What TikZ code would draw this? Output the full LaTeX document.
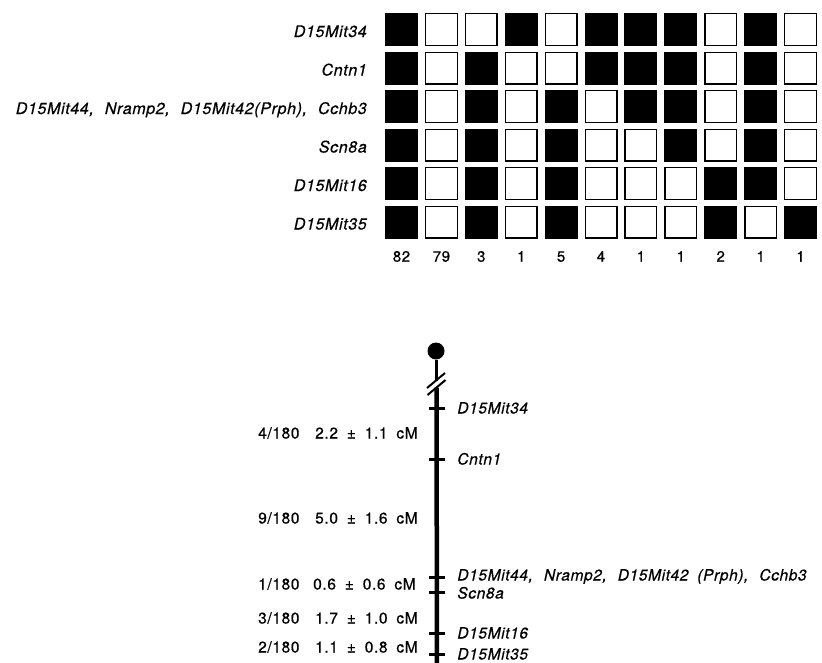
\documentclass[tikz,border=0pt]{standalone}
\usepackage{fontspec}
\setmainfont{TeX Gyre Heros}
\newfontfamily\mapfont[LetterSpace=4,WordSpace=1.8,FakeBold=0.6]{TeX Gyre Heros}
\usetikzlibrary{positioning}
\colorlet{fill0}{white}
\colorlet{fill1}{black}
\newcommand{\wgap}{\hspace{11pt}}

\begin{document}
\begin{tikzpicture}[
  x=1pt, y=-1pt,
  cellBox/.style    ={rectangle, draw=black, line width=1.4pt, minimum size=31.6pt, inner sep=0pt},
  rowLabel/.style   ={inner sep=0pt, text height=11pt, text depth=0pt, yshift=-2pt, font=\mapfont\fontsize{16}{18}\selectfont\itshape},
  countLabel/.style ={inner sep=0pt, text height=10pt, text depth=0pt, font=\mapfont\fontsize{15}{17}\selectfont},
  mapLabel/.style   ={inner sep=0pt, text height=11pt, text depth=0pt, font=\mapfont\fontsize{15.5}{18}\selectfont},
  markerLabel/.style={mapLabel, font=\mapfont\fontsize{15.5}{18}\selectfont\itshape},
  tickMark/.style   ={rectangle, fill=black, minimum width=16pt, minimum height=3pt, inner sep=0pt},
  chromLine/.style  ={line width=4.5pt},
  stemLine/.style   ={line width=3pt},
  breakMark/.style  ={line width=2pt}
]
\useasboundingbox (0,0) rectangle (822,662);

% ================== HAPLOTYPE GRID ==================
\foreach \pattern [count=\r] in {
    {1,0,0,1,0,1,1,1,0,1,0},
    {1,0,1,0,0,1,1,1,0,1,0},
    {1,0,1,0,1,0,1,1,0,1,0},
    {1,0,1,0,1,0,0,1,0,1,0},
    {1,0,1,0,1,0,0,0,1,1,0},
    {1,0,1,0,1,0,0,0,1,0,1}}{
  \foreach \v [count=\c] in \pattern
    \node[cellBox, fill=fill\v] (cell-\r-\c) at ({401.5+39.9*(\c-1)}, {29.5+38.5*(\r-1)}) {};
}

% row labels
\node[rowLabel, left=18pt of cell-1-1] (lab1) {D15Mit34};
\node[rowLabel, left=18pt of cell-2-1] (lab2) {Cntn1};
\node[rowLabel, left=18pt of cell-3-1] (lab3) {D15Mit44,\wgap Nramp2,\wgap D15Mit42(Prph),\wgap Cchb3};
\node[rowLabel, left=18pt of cell-4-1] (lab4) {Scn8a};
\node[rowLabel, left=18pt of cell-5-1] (lab5) {D15Mit16};
\node[rowLabel, left=18pt of cell-6-1] (lab6) {D15Mit35};

% animal counts below each column
\foreach \n [count=\c] in {82,79,3,1,5,4,1,1,2,1,1}
  \node[countLabel, below=13pt of cell-6-\c] (num-\c) {\n};

% ================== CHROMOSOME ==================
\node[circle, fill=black, minimum size=17pt, inner sep=0pt] (cen) at (436,351) {};
\coordinate (brkTop) at (436,380.5);
\coordinate (brkBot) at (436.5,387.5);
\coordinate (chrEnd) at (437,670);

\draw[stemLine] (cen) -- (brkTop);
\draw[chromLine] (brkBot) -- (chrEnd);

% break marks
\draw[breakMark] ([shift={(9,-7.5)}]brkTop) -- ([shift={(-9,7.5)}]brkTop);
\draw[breakMark] ([shift={(9,-7.5)}]brkBot) -- ([shift={(-9,7.5)}]brkBot);

% marker ticks
\node[tickMark] (t34)  at (437,408) {};
\node[tickMark] (tCn)  at (437,459) {};
\node[tickMark] (t44)  at (437,577) {};
\node[tickMark] (tScn) at (437,592) {};
\node[tickMark] (t16)  at (437,633) {};
\node[tickMark] (t35)  at (437,654) {};

\node[markerLabel, right=12pt of t34]  (m34)  {D15Mit34};
\node[markerLabel, right=12pt of tCn]  (mCn)  {Cntn1};
\node[markerLabel, right=12pt of t44, yshift=2pt] (m44) {D15Mit44,\wgap Nramp2,\wgap D15Mit42 (Prph),\wgap Cchb3};
\node[markerLabel, right=12pt of tScn, yshift=-1pt] (mScn) {Scn8a};
\node[markerLabel, right=12pt of t16]  (m16)  {D15Mit16};
\node[markerLabel, right=12pt of t35]  (m35)  {D15Mit35};

% recombinant fractions and distances
\node[mapLabel, anchor=west] (f1) at (258,433) {4/180};
\node[mapLabel, anchor=west] (d1) at (315,433) {2.2 ± 1.1 cM};
\node[mapLabel, anchor=west] (f2) at (258,518) {9/180};
\node[mapLabel, anchor=west] (d2) at (315,518) {5.0 ± 1.6 cM};
\node[mapLabel, anchor=west] (f3) at (258,584) {1/180};
\node[mapLabel, anchor=west] (d3) at (313,584) {0.6 ± 0.6 cM};
\node[mapLabel, anchor=west] (f4) at (258,618) {3/180};
\node[mapLabel, anchor=west] (d4) at (315,618) {1.7 ± 1.0 cM};
\node[mapLabel, anchor=west] (f5) at (258,647) {2/180};
\node[mapLabel, anchor=west] (d5) at (315,647) {1.1 ± 0.8 cM};

\end{tikzpicture}
\end{document}
